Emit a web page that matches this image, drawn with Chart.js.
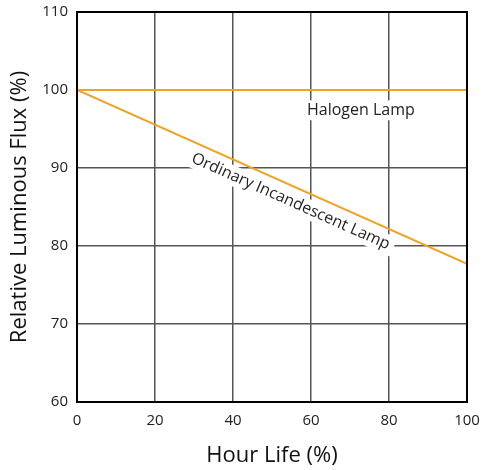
<!DOCTYPE html>
<html><head><meta charset="utf-8">
<script src="https://cdn.jsdelivr.net/npm/chart.js@4"></script>
<style>html,body{margin:0;padding:0;background:#fff}canvas{display:block}</style>
</head><body>
<canvas id="c" width="482" height="470"></canvas>
<script>
const hourLife = [0, 100];
const halogen = [100, 100];
const ordinary = [100, 77.7];
const xTicks = [0, 20, 40, 60, 80, 100];
const yTicks = [60, 70, 80, 90, 100, 110];
const seriesNames = ['Halogen Lamp', 'Ordinary Incandescent Lamp'];

const FONT = "'Open Sans', 'Noto Sans', sans-serif";
const ORANGE = '#f0a224';

const labelPlugin = {
  id: 'labels',
  beforeDatasetsDraw(chart) {
    const {ctx, scales: {x, y}} = chart;
    ctx.save();
    ctx.font = "16px " + FONT;
    ctx.textAlign = 'center';
    ctx.textBaseline = 'middle';
    let hx = x.getPixelForValue(72.8), hy = y.getPixelForValue(97.4);
    let w = ctx.measureText(seriesNames[0]).width;
    ctx.fillStyle = '#fff';
    ctx.fillRect(hx - w/2 - 3, hy - 10, w + 6, 20);
    ctx.fillStyle = '#222';
    ctx.fillText(seriesNames[0], hx, hy);
    const x0 = x.getPixelForValue(hourLife[0]), y0 = y.getPixelForValue(ordinary[0]);
    const x1 = x.getPixelForValue(hourLife[1]), y1 = y.getPixelForValue(ordinary[1]);
    const ang = Math.atan2(y1 - y0, x1 - x0);
    const ox = x.getPixelForValue(54.8), oy = y.getPixelForValue(85.7);
    ctx.translate(ox, oy);
    ctx.rotate(ang);
    w = ctx.measureText(seriesNames[1]).width;
    ctx.fillStyle = '#fff';
    ctx.fillRect(-w/2 - 5, -10, w + 10, 20);
    ctx.fillStyle = '#222';
    ctx.fillText(seriesNames[1], 0, 0);
    ctx.restore();
  },
  afterDraw(chart) {
    const {ctx, chartArea: a} = chart;
    ctx.save();
    ctx.strokeStyle = '#000';
    ctx.lineWidth = 2;
    ctx.strokeRect(a.left, a.top, a.right - a.left, a.bottom - a.top);
    ctx.restore();
  }
};

new Chart(document.getElementById('c'), {
  type: 'line',
  data: {
    datasets: [
      {label: seriesNames[0], data: hourLife.map((v, i) => ({x: v, y: halogen[i]})), borderColor: ORANGE, borderWidth: 2, pointRadius: 0, fill: false},
      {label: seriesNames[1], data: hourLife.map((v, i) => ({x: v, y: ordinary[i]})), borderColor: ORANGE, borderWidth: 2, pointRadius: 0, fill: false}
    ]
  },
  options: {
    responsive: false,
    animation: false,
    layout: {padding: {left: 0, right: 15, top: 12, bottom: 0}},
    plugins: {legend: {display: false}, tooltip: {enabled: false}},
    scales: {
      x: {
        type: 'linear', min: 0, max: 100,
        afterBuildTicks(s) { s.ticks = xTicks.map(v => ({value: v})); },
        afterFit(s) { s.height = 68; s.paddingLeft = 0; s.paddingRight = 0; },
        grid: {color: '#555', lineWidth: 1.5, drawTicks: false},
        border: {color: '#000', width: 2},
        ticks: {color: '#222', font: {family: FONT, size: 15}, padding: 10, maxRotation: 0},
        title: {display: true, text: 'Hour Life (%)', color: '#111', font: {family: FONT, size: 22}, padding: {top: 0, bottom: 1}}
      },
      y: {
        type: 'linear', min: 60, max: 110,
        afterBuildTicks(s) { s.ticks = yTicks.map(v => ({value: v})); },
        afterFit(s) { s.width = 77; s.paddingTop = 0; s.paddingBottom = 0; },
        grid: {color: '#555', lineWidth: 1.5, drawTicks: false},
        border: {color: '#000', width: 2},
        ticks: {color: '#222', font: {family: FONT, size: 15}, padding: 9},
        title: {display: true, text: 'Relative Luminous Flux (%)', color: '#111', font: {family: FONT, size: 22}, padding: {top: 7, bottom: 0}}
      }
    }
  },
  plugins: [labelPlugin]
});
</script>
</body></html>
